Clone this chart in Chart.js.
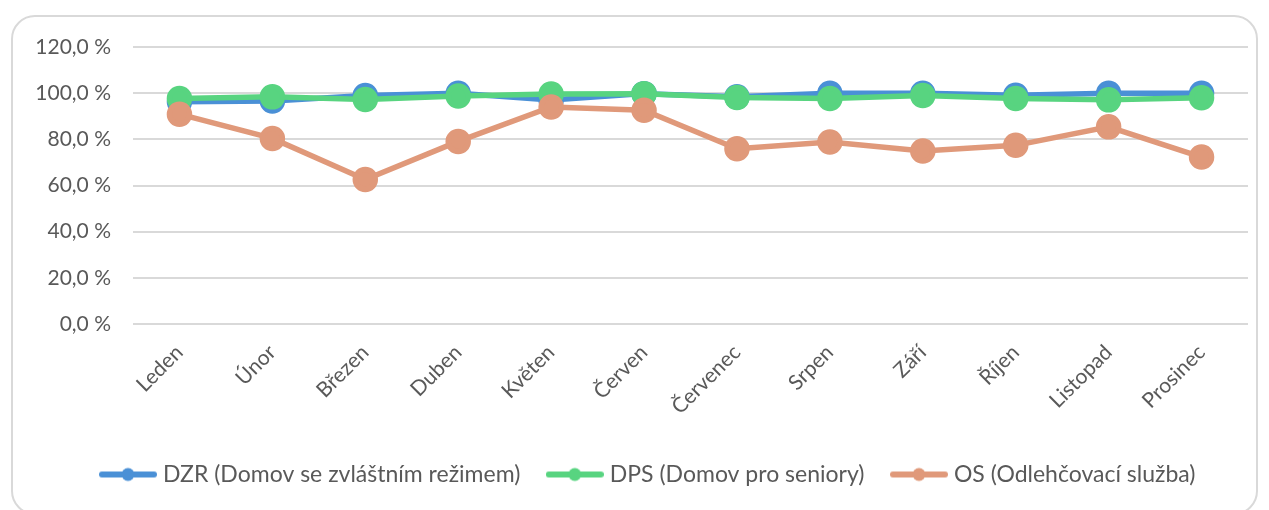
<!DOCTYPE html>
<html>
<head>
<meta charset="utf-8">
<script src="https://cdn.jsdelivr.net/npm/chart.js@4/dist/chart.umd.min.js"></script>
<style>
  body { margin: 0; background: #fff; }
  #wrap { position: relative; width: 1269px; height: 510px; }
  #frame { position: absolute; left: 11px; top: 15px; width: 1247px; height: 500px; border: 2px solid #d9d9d9; border-radius: 24px; box-sizing: border-box; }
  canvas { position: absolute; left: 0; top: 0; }
</style>
</head>
<body>
<div id="wrap">
  <div id="frame"></div>
  <canvas id="chart" width="1269" height="510"></canvas>
</div>
<script>
const months = ['Leden', 'Únor', 'Březen', 'Duben', 'Květen', 'Červen', 'Červenec', 'Srpen', 'Září', 'Říjen', 'Listopad', 'Prosinec'];
const dzr = [96.3, 96.6, 99.0, 100.0, 97.0, 99.8, 98.4, 100.0, 100.0, 99.1, 100.0, 100.0];
const dps = [97.7, 98.4, 97.3, 98.8, 99.6, 99.8, 98.1, 97.7, 99.0, 97.7, 97.1, 98.0];
const os = [90.9, 80.4, 62.6, 79.1, 94.0, 92.6, 75.9, 78.8, 74.9, 77.4, 85.4, 72.3];
const yTicks = [0, 20, 40, 60, 80, 100, 120];

const colors = { dzr: '#4a90d6', dps: '#58d480', os: '#e0997a' };

// small line-with-dot marker for the legend
function legendMarker(color) {
  const c = document.createElement('canvas');
  c.width = 58; c.height = 16;
  const g = c.getContext('2d');
  g.strokeStyle = color; g.lineWidth = 6; g.lineCap = 'round';
  g.beginPath(); g.moveTo(3, 8); g.lineTo(55, 8); g.stroke();
  g.fillStyle = color;
  g.beginPath(); g.arc(29, 8, 6.5, 0, Math.PI * 2); g.fill();
  return c;
}

const series = [
  { label: 'DZR (Domov se zvláštním režimem)', data: dzr, color: colors.dzr, order: 3 },
  { label: 'DPS (Domov pro seniory)', data: dps, color: colors.dps, order: 2 },
  { label: 'OS (Odlehčovací služba)', data: os, color: colors.os, order: 1 }
];
const markers = series.map(s => legendMarker(s.color));

// legend row is centred a bit right of the canvas centre in the original
const legendShift = {
  id: 'legendShift',
  afterUpdate(chart) {
    chart.legend.left += 26;
    chart.legend.right += 26;
  }
};

new Chart(document.getElementById('chart'), {
  type: 'line',
  data: {
    labels: months,
    datasets: series.map(s => ({
      label: s.label, data: s.data, order: s.order,
      borderColor: s.color, backgroundColor: s.color,
      pointBackgroundColor: s.color, pointBorderColor: s.color,
      borderWidth: 5.5, pointRadius: 10, pointHoverRadius: 10, tension: 0
    }))
  },
  options: {
    responsive: false,
    animation: false,
    layout: { padding: { top: 47, right: 21, bottom: 14, left: 0 } },
    scales: {
      x: {
        offset: true,
        grid: { display: false },
        border: { display: false },
        ticks: { color: '#595959', font: { family: 'Lato', size: 21 }, minRotation: 45, maxRotation: 45, padding: 8 },
        afterFit: s => { s.height = 108; }
      },
      y: {
        min: 0, max: 120,
        afterBuildTicks: s => { s.ticks = yTicks.map(v => ({ value: v })); },
        grid: { color: '#d9d9d9', lineWidth: 2, drawTicks: false },
        border: { display: false },
        ticks: { color: '#595959', font: { family: 'Lato', size: 21 }, padding: 22, callback: v => v.toFixed(1).replace('.', ',') + ' %' },
        afterFit: s => { s.width = 133; }
      }
    },
    plugins: {
      tooltip: { enabled: false },
      legend: {
        position: 'bottom',
        labels: {
          color: '#595959', font: { family: 'Lato', size: 23 }, padding: 31,
          usePointStyle: true, pointStyleWidth: 47,
          sort: (a, b) => a.datasetIndex - b.datasetIndex,
          generateLabels: chart => Chart.defaults.plugins.legend.labels.generateLabels(chart).map(l => {
            l.pointStyle = markers[l.datasetIndex];
            return l;
          })
        }
      }
    }
  },
  plugins: [legendShift]
});
</script>
</body>
</html>
